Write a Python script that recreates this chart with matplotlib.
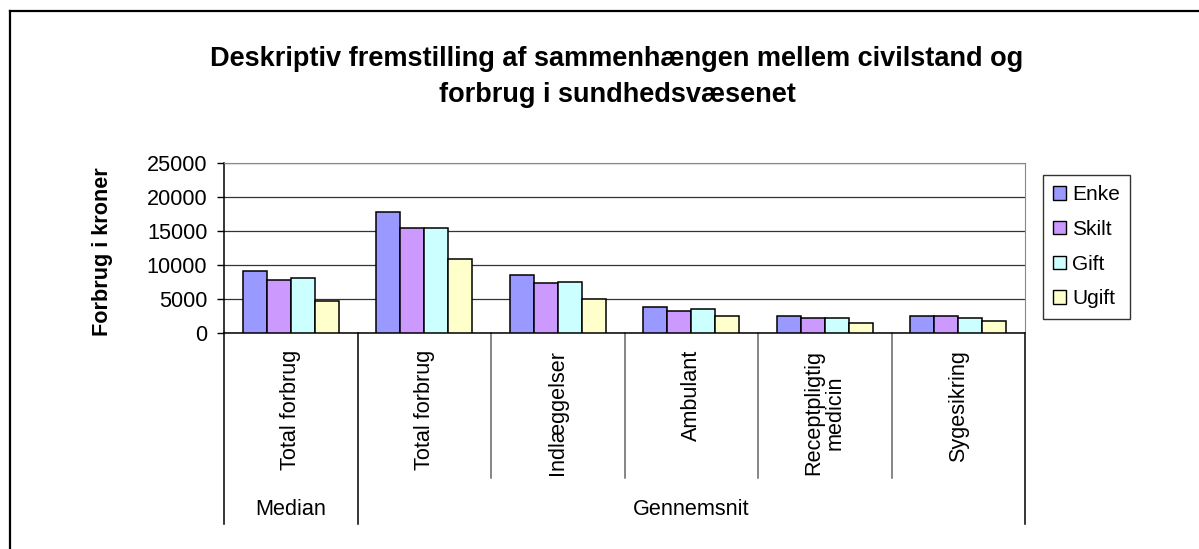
import matplotlib
matplotlib.use("Agg")
import matplotlib.pyplot as plt
import numpy as np
from matplotlib.lines import Line2D
from matplotlib.patches import Patch

plt.rcParams['font.family'] = ['Liberation Sans', 'DejaVu Sans']

categories = ["Total forbrug", "Total forbrug", "Indlæggelser", "Ambulant",
              "Receptpligtig\nmedicin", "Sygesikring"]
groups = ["Median", "Gennemsnit"]
group_sizes = [1, 5]
series_names = ["Enke", "Skilt", "Gift", "Ugift"]
enke = [9050, 17750, 8580, 3820, 2550, 2550]
skilt = [7850, 15400, 7350, 3280, 2250, 2550]
gift = [8090, 15400, 7550, 3530, 2250, 2250]
ugift = [4750, 10880, 5050, 2550, 1520, 1810]
colors = ["#9999FF", "#CC99FF", "#CCFFFF", "#FFFFCC"]
yticks = [0, 5000, 10000, 15000, 20000, 25000]

FS = 15.6
W, H = 1199, 549
fig = plt.figure(figsize=(W / 100, H / 100), dpi=100)
ax = fig.add_axes([224 / W, 1 - 333 / H, (1025 - 224) / W, 170 / H])

values = [enke, skilt, gift, ugift]
n = len(categories)
x = np.arange(n) + 0.5
bw = 0.18
for i, (vals, col) in enumerate(zip(values, colors)):
    ax.bar(x + (i - 1.5) * bw, vals, width=bw, color=col, edgecolor='black',
           linewidth=1.1, zorder=3, label=series_names[i])

ax.set_xlim(0, n)
ax.set_ylim(0, 25000)
ax.set_yticks(yticks)
ax.set_yticklabels([str(t) for t in yticks], fontsize=FS)
ax.yaxis.grid(True, color='#333333', linewidth=0.9, zorder=0)
ax.set_xticks([])
ax.tick_params(axis='y', length=5, width=1, direction='out', pad=7)
for s in ['top', 'right']:
    ax.spines[s].set_color('#888888')
ax.spines['left'].set_linewidth(1.1)
ax.spines['bottom'].set_linewidth(1.1)
ax.set_ylabel("Forbrug i kroner", fontsize=FS, fontweight='bold')
ax.yaxis.set_label_coords((113 - 224) / 801, (333 - 252) / 170)

trans = ax.get_xaxis_transform()
# category labels
for xi, lab in zip(x, categories):
    ax.text(xi, -0.10, lab, rotation=90, ha='center', va='top', fontsize=FS,
            multialignment='center', linespacing=1.0, transform=trans)
# separators
bounds = np.cumsum([0] + group_sizes)
for b in range(n + 1):
    if b in bounds:
        ax.plot([b, b], [0, -1.124], color='black', lw=1.1, transform=trans, clip_on=False)
    else:
        ax.plot([b, b], [0, -0.853], color='#666666', lw=1.1, transform=trans, clip_on=False)
for g, (start, size) in enumerate(zip(bounds[:-1], group_sizes)):
    ax.text(start + size / 2, -1.04, groups[g], ha='center', va='center',
            fontsize=FS, transform=trans)

fig.suptitle("Deskriptiv fremstilling af sammenhængen mellem civilstand og\nforbrug i sundhedsvæsenet",
             fontsize=19.5, fontweight='bold', y=1 - 77 / H, va='center', x=617 / W,
             linespacing=1.5)

handles = [Patch(facecolor=c, edgecolor='black', linewidth=1.0) for c in colors]
leg = fig.legend(handles, series_names, loc='upper left',
                 bbox_to_anchor=(1043 / W, 1 - 175 / H), fontsize=15,
                 frameon=True, fancybox=False, edgecolor='black',
                 handlelength=0.6, handleheight=0.6, handletextpad=0.3,
                 labelspacing=0.75, borderpad=0.5, borderaxespad=0)
leg.get_frame().set_linewidth(1.0)

# outer chart border (left and top)
fig.add_artist(Line2D([10 / W, 10 / W], [0, 1 - 11 / H], color='black', lw=1.6,
                      transform=fig.transFigure))
fig.add_artist(Line2D([10 / W, 1], [1 - 11 / H, 1 - 11 / H], color='black', lw=1.6,
                      transform=fig.transFigure))

fig.savefig("out.png", dpi=100)
